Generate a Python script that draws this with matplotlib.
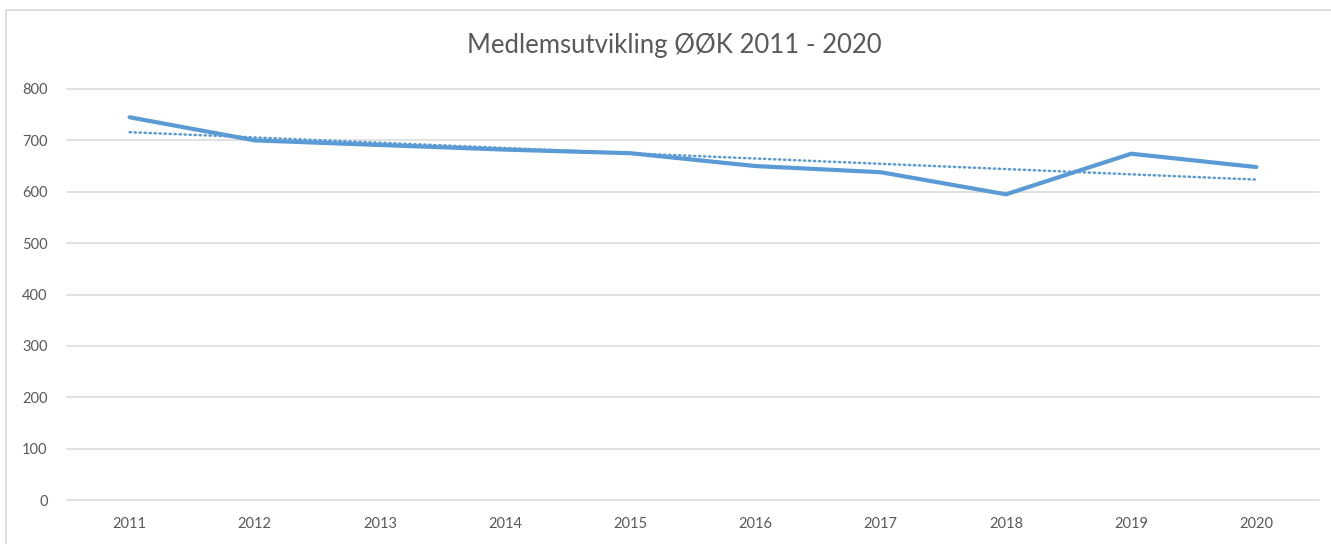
import numpy as np
import matplotlib
matplotlib.use("Agg")
import matplotlib.pyplot as plt
from matplotlib.patches import Rectangle

YEARS = ["2011", "2012", "2013", "2014", "2015", "2016", "2017", "2018", "2019", "2020"]
MEMBERS = [745, 700, 691, 682, 675, 650, 638, 595, 674, 648]
Y_TICKS = [0, 100, 200, 300, 400, 500, 600, 700, 800]
TITLE = "Medlemsutvikling ØØK 2011 - 2020"

LINE_COL = "#5B9BD5"
GRID_COL = "#D9D9D9"
TEXT_COL = "#595959"

plt.rcParams['font.family'] = ['Lato', 'DejaVu Sans']

W, H = 1331, 544
fig = plt.figure(figsize=(W / 100, H / 100), dpi=100)

# chart border (right and bottom edges run off the picture)
fig.patches.append(Rectangle((6 / W, -0.1), 1.2, 1 - 10 / H + 0.1,
                             transform=fig.transFigure, fill=False,
                             edgecolor=GRID_COL, lw=1.2))

ax = fig.add_axes([67 / W, 1 - 500 / H, (1319 - 67) / W, (500 - 89) / H])
x = np.arange(len(YEARS))

# linear trend, like the Excel trendline
coef = np.polyfit(x, MEMBERS, 1)
trend = np.polyval(coef, x)

ax.plot(x, trend, color=LINE_COL, lw=1.8, linestyle=(0, (0.5, 1.5)),
        dash_capstyle='round', zorder=3)
ax.plot(x, MEMBERS, color=LINE_COL, lw=3.0, solid_capstyle='round',
        solid_joinstyle='round', zorder=4)

ax.set_xlim(-0.5, len(YEARS) - 0.5)
ax.set_ylim(0, 800)
ax.set_xticks(x)
ax.set_xticklabels(YEARS)
ax.set_yticks(Y_TICKS)
ax.grid(axis='y', color=GRID_COL, lw=1.1)
ax.set_axisbelow(True)
for gl in ax.get_ygridlines():
    gl.set_clip_on(False)
for s in ax.spines.values():
    s.set_visible(False)
ax.tick_params(axis='both', length=0, colors=TEXT_COL, labelsize=10.5)
ax.tick_params(axis='y', pad=14)
ax.tick_params(axis='x', pad=12)

fig.text(674 / W, 1 - 46 / H, TITLE, ha='center', va='center',
         fontsize=18.5, color=TEXT_COL)

fig.savefig("out.png", dpi=100, facecolor="white")
